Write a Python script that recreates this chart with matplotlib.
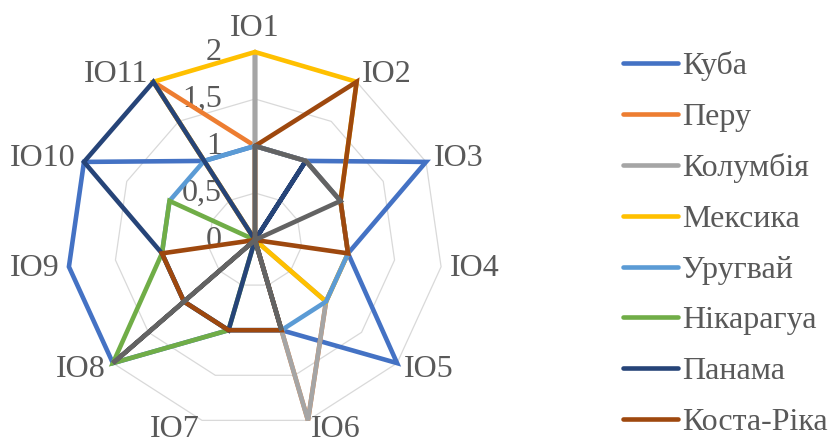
import matplotlib.pyplot as plt
import numpy as np

plt.rcParams['font.family'] = ['Liberation Serif', 'DejaVu Serif']

# indicator axes and country scores (0, 1 or 2)
categories = ['IO1', 'IO2', 'IO3', 'IO4', 'IO5', 'IO6', 'IO7', 'IO8', 'IO9', 'IO10', 'IO11']
countries = ['Куба', 'Перу', 'Колумбія', 'Мексика', 'Уругвай', 'Нікарагуа', 'Панама', 'Коста-Ріка']
cuba = [1, 1, 2, 1, 2, 1, 1, 2, 2, 2, 1]
peru = [1, 1, 1, 1, 1, 2, 0, 0, 0, 0, 2]
colombia = [2, 0, 0, 0, 1, 2, 0, 0, 0, 0, 0]
mexico = [2, 2, 1, 1, 1, 0, 0, 0, 0, 0, 2]
uruguay = [1, 1, 1, 1, 1, 1, 1, 1, 1, 1, 1]
nicaragua = [0, 0, 0, 0, 0, 0, 1, 2, 1, 1, 0]
panama = [0, 1, 0, 0, 0, 0, 1, 1, 1, 2, 2]
costa_rica = [1, 2, 1, 1, 0, 1, 1, 1, 1, 0, 0]
series9 = [1, 1, 1, 0, 0, 1, 0, 2, 0, 0, 0]  # ninth series, not in legend
levels = [0, 0.5, 1, 1.5, 2]
level_labels = ['0', '0,5', '1', '1,5', '2']

colors = ['#4472C4', '#ED7D31', '#A5A5A5', '#FFC000', '#5B9BD5',
          '#70AD47', '#264478', '#9E480E', '#636363']
text_color = '#595959'
fs = 23

fig = plt.figure(figsize=(8.3, 4.41), dpi=100)
ax = fig.add_axes([67 / 830, 13 / 441, 376 / 830, 376 / 441], projection='polar')
ax.set_theta_zero_location('N')
ax.set_theta_direction(-1)
ax.set_ylim(0, 2)
ax.set_xticks([])
ax.set_yticks([])
ax.grid(False)
ax.spines['polar'].set_visible(False)
ax.patch.set_alpha(0)

n = len(categories)
angles = np.linspace(0, 2 * np.pi, n, endpoint=False)
closed = np.append(angles, angles[0])

# polygon gridlines
for lv in levels[1:]:
    ax.plot(closed, [lv] * (n + 1), color='#D9D9D9', lw=0.9, clip_on=False, zorder=1)

data = [cuba, peru, colombia, mexico, uruguay, nicaragua, panama, costa_rica, series9]
names = countries + ['_nolegend_']
for vals, name, c in zip(data, names, colors):
    ax.plot(closed, vals + vals[:1], color=c, lw=3.3, label=name, clip_on=False,
            solid_joinstyle='miter', solid_capstyle='round', zorder=3)

# axis category labels
for a, lab in zip(angles, categories):
    s, c = np.sin(a), np.cos(a)
    if abs(s) < 0.1:
        ha, va = 'center', 'bottom'
    else:
        ha, va = ('left' if s > 0 else 'right'), 'center'
    ax.annotate(lab, xy=(a, 2), xytext=(9 * s, 9 * c), textcoords='offset pixels',
                ha=ha, va=va, fontsize=fs, color=text_color, annotation_clip=False)

# value labels along the first axis
for lv, lab in zip(levels, level_labels):
    ax.annotate(lab, xy=(0, lv), xytext=(-33, 0), textcoords='offset pixels',
                ha='right', va='center', fontsize=fs, color=text_color,
                annotation_clip=False, zorder=2)

leg = fig.legend(loc='upper left', bbox_to_anchor=(623 / 830, 1 - 51 / 441),
                 frameon=False, fontsize=fs, handlelength=1.72, handletextpad=0.12,
                 labelspacing=0.67, borderaxespad=0, borderpad=0)
for t in leg.get_texts():
    t.set_color(text_color)

plt.savefig('out.png', dpi=100)
